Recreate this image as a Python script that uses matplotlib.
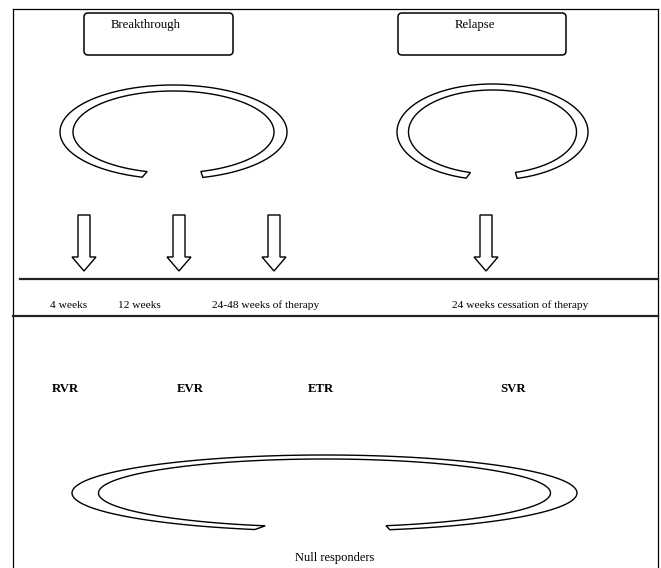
import numpy as np
import matplotlib
matplotlib.use("Agg")
import matplotlib.pyplot as plt
from matplotlib.patches import Polygon, FancyBboxPatch

# diagram content
box_labels = ["Breakthrough", "Relapse"]
timeline_labels = ["4 weeks", "12 weeks", "24-48 weeks of therapy", "24 weeks cessation of therapy"]
response_labels = ["RVR", "EVR", "ETR", "SVR"]
bottom_label = "Null responders"

# layout (pixel coordinates, y downwards)
W, H = 661, 568
arrow_x = [84, 179, 274, 486]
timeline_text_x = [50, 118, 212, 452]
response_text_x = [52, 177, 308, 500]
box_rects = [(84, 13, 149, 42), (398, 13, 168, 42)]
box_text_x = [111, 455]
# (cx, cy, a_out, b_out, a_in, b_in)
rings = [
    (173.5, 132, 113.5, 47, 100.5, 41),
    (492.5, 132, 95.5, 48, 84, 42),
    (324.5, 493, 252.5, 38, 226, 34),
]

SERIF = "Liberation Serif"

fig = plt.figure(figsize=(W / 100, H / 100), dpi=100)
ax = fig.add_axes([0, 0, 1, 1])
ax.set_xlim(0, W)
ax.set_ylim(H, 0)
ax.axis("off")

# frame
ax.plot([13, 13], [9, H], color="black", lw=0.9)
ax.plot([13, 658], [9, 9], color="black", lw=0.9)
ax.plot([658, 658], [9, H], color="black", lw=0.9)

# boxes on top
for (x, y, w, h), lab, tx in zip(box_rects, box_labels, box_text_x):
    ax.add_patch(FancyBboxPatch((x + 4, y + 4), w - 8, h - 8,
                                boxstyle="round,pad=4", fc="white", ec="black", lw=1.1))
    ax.text(tx, 25, lab, family=SERIF, fontsize=9.2, ha="left", va="center")


def ring(cx, cy, ao, bo, ai, bi, t_end=-75.0, t_start=254.0):
    t_out = np.radians(np.linspace(t_end, t_start, 300))
    t_in = np.radians(np.linspace(t_start + 0.8, t_end + 0.8, 300))
    xo = cx + ao * np.cos(t_out)
    yo = cy - bo * np.sin(t_out)
    xi = cx + ai * np.cos(t_in)
    yi = cy - bi * np.sin(t_in)
    pts = np.column_stack([np.r_[xo, xi], np.r_[yo, yi]])
    ax.add_patch(Polygon(pts, closed=True, fc="white", ec="black", lw=1.0))


for r in rings:
    ring(*r)

# hollow arrows
for c in arrow_x:
    pts = [(c - 6, 215), (c + 6, 215), (c + 6, 257), (c + 12, 257),
           (c, 271), (c - 12, 257), (c - 6, 257)]
    ax.add_patch(Polygon(pts, closed=True, fc="white", ec="black", lw=1.0))

# timeline lines
ax.plot([20, 658], [279, 279], color="#222222", lw=1.6)
ax.plot([13, 658], [316, 316], color="#222222", lw=1.6)

for x, lab in zip(timeline_text_x, timeline_labels):
    ax.text(x, 305, lab, family=SERIF, fontsize=8.2, ha="left", va="center")

for x, lab in zip(response_text_x, response_labels):
    ax.text(x, 389, lab, family=SERIF, fontsize=9.2, fontweight="bold",
            ha="left", va="center")

ax.text(335, 558, bottom_label, family=SERIF, fontsize=9.0, ha="center", va="center")

fig.savefig("out.png", dpi=100)
